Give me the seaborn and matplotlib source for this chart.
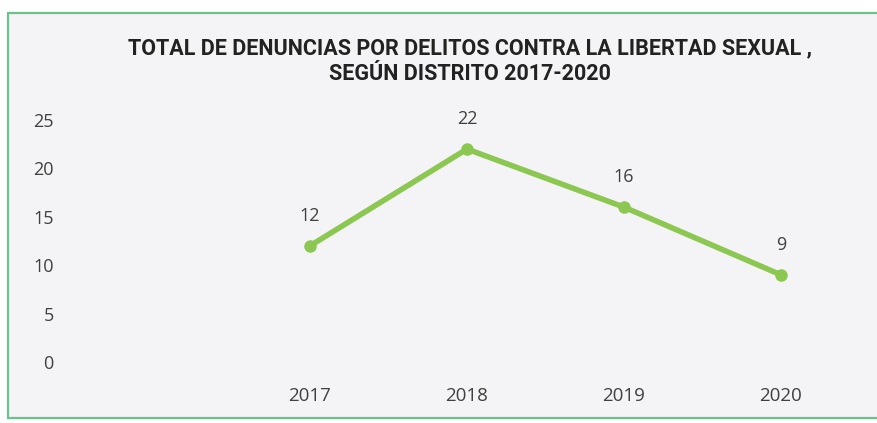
import numpy as np
import pandas as pd
import matplotlib
matplotlib.use("Agg")
import matplotlib.pyplot as plt
import seaborn as sns
from matplotlib.patches import Rectangle

years = ["2017", "2018", "2019", "2020"]
denuncias = [12, 22, 16, 9]
y_ticks = [0, 5, 10, 15, 20, 25]
title = "TOTAL DE DENUNCIAS POR DELITOS CONTRA LA LIBERTAD SEXUAL ,\nSEGÚN DISTRITO 2017-2020"

df = pd.DataFrame({"anio": years, "total": denuncias})

sns.set_style("white")
plt.rcParams["font.family"] = ["Open Sans", "DejaVu Sans"]

W, H = 877, 423
fig = plt.figure(figsize=(W / 100, H / 100), dpi=100, facecolor="white")

# chart frame (green border, light gray fill)
fig.patches.append(Rectangle((8 / W, 1 - 418 / H), 1.0, (418 - 13) / H,
                             transform=fig.transFigure, facecolor="#f4f4f6",
                             edgecolor="#6cc28a", linewidth=1.6, zorder=-5))

ax_left, ax_right = 62, 865
ax_bottom, ax_top = 362, 120
ax = fig.add_axes([ax_left / W, 1 - ax_bottom / H,
                   (ax_right - ax_left) / W, (ax_bottom - ax_top) / H])
ax.set_facecolor("none")
ax.set_zorder(2)

sns.lineplot(data=df, x="anio", y="total", ax=ax, color="#8cc751",
             linewidth=4, marker="o", markersize=9, markeredgewidth=0,
             sort=False)

px = 157.0  # pixels per category step
ax.set_xlim(-(310 - ax_left) / px, 3 + (ax_right - 781) / px)
ax.set_ylim(0, 25)
ax.set_yticks(y_ticks)
ax.tick_params(axis="y", length=0, pad=6, labelsize=13, labelcolor="#404040")
ax.tick_params(axis="x", length=0, pad=18, labelsize=13.5, labelcolor="#404040")
for lab in ax.get_yticklabels():
    lab.set_horizontalalignment("right")
ax.set_xlabel("")
ax.set_ylabel("")
sns.despine(ax=ax, left=True, bottom=True)

for i, v in enumerate(denuncias):
    ax.annotate(str(v), (i, v), xytext=(0, 15), textcoords="offset points",
                ha="center", va="bottom", fontsize=13, color="#404040")

fig.text(470 / W, 1 - 61 / H, title, ha="center", va="center",
         fontsize=15.5, fontweight="bold", color="#222222", linespacing=1.25,
         family=["Roboto", "DejaVu Sans"])

fig.savefig("out.png", dpi=100, facecolor="white")
